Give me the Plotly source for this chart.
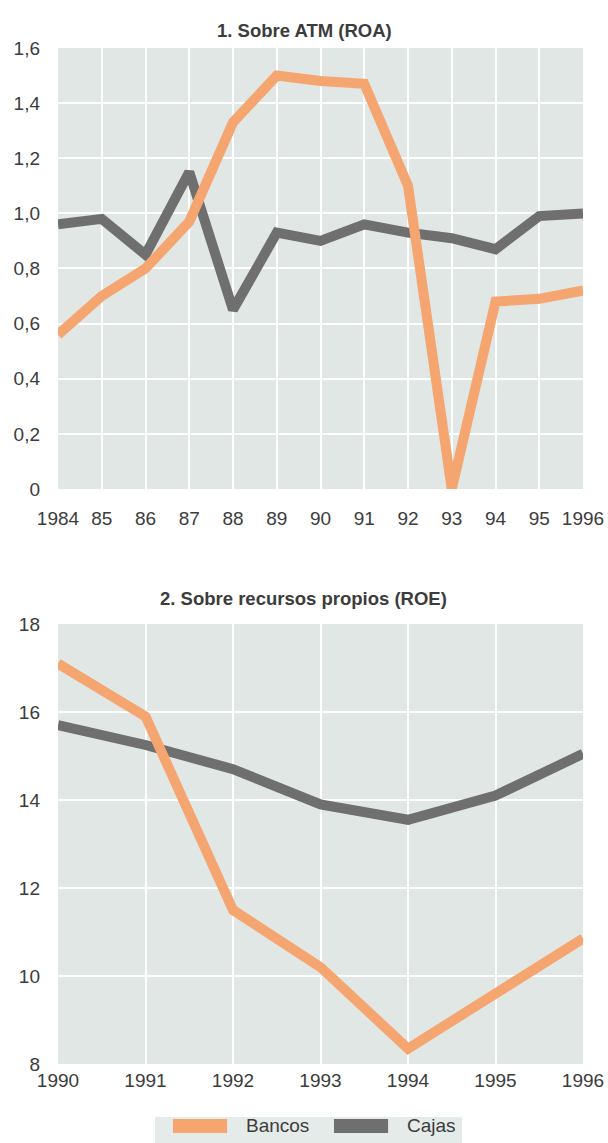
import plotly.graph_objects as go

# 1. Sobre ATM (ROA)
roa_years = [1984, 1985, 1986, 1987, 1988, 1989, 1990, 1991, 1992, 1993, 1994, 1995, 1996]
roa_labels = ["1984", "85", "86", "87", "88", "89", "90", "91", "92", "93", "94", "95", "1996"]
roa_bancos = [0.56, 0.70, 0.80, 0.97, 1.33, 1.50, 1.48, 1.47, 1.10, 0.00, 0.68, 0.69, 0.72]
roa_cajas = [0.96, 0.98, 0.85, 1.15, 0.65, 0.93, 0.90, 0.96, 0.93, 0.91, 0.87, 0.99, 1.00]
roa_ticks = [0, 0.2, 0.4, 0.6, 0.8, 1.0, 1.2, 1.4, 1.6]
roa_ticktext = ["0", "0,2", "0,4", "0,6", "0,8", "1,0", "1,2", "1,4", "1,6"]

# 2. Sobre recursos propios (ROE)
roe_years = [1990, 1991, 1992, 1993, 1994, 1995, 1996]
roe_bancos = [17.1, 15.9, 11.5, 10.2, 8.35, 9.6, 10.85]
roe_cajas = [15.7, 15.25, 14.7, 13.9, 13.55, 14.1, 15.05]
roe_ticks = [8, 10, 12, 14, 16, 18]

series_names = ["Bancos", "Cajas"]

ORANGE = "#f5a670"
GRAY = "#6f6f6f"
BG = "#e1e7e5"
TXT = "#3c3c3c"
FONT = "Liberation Sans, Arial, sans-serif"

fig = go.Figure()

# gris primero para que el naranja quede encima
fig.add_trace(go.Scatter(x=roa_years, y=roa_cajas, mode="lines", name="Cajas",
                         line=dict(color=GRAY, width=10), xaxis="x", yaxis="y"))
fig.add_trace(go.Scatter(x=roa_years, y=roa_bancos, mode="lines", name="Bancos",
                         line=dict(color=ORANGE, width=10), xaxis="x", yaxis="y"))
fig.add_trace(go.Scatter(x=roe_years, y=roe_cajas, mode="lines", name="Cajas",
                         line=dict(color=GRAY, width=10), xaxis="x2", yaxis="y2"))
fig.add_trace(go.Scatter(x=roe_years, y=roe_bancos, mode="lines", name="Bancos",
                         line=dict(color=ORANGE, width=10), xaxis="x2", yaxis="y2"))

axis_common = dict(showgrid=True, gridcolor="white", gridwidth=1.5, zeroline=False,
                   showline=False, automargin=False, fixedrange=True,
                   tickfont=dict(size=19, color=TXT, family=FONT))

# leyenda dibujada a mano (caja + muestras anchas como en el original)
legend_shapes = [
    dict(type="rect", xref="paper", yref="paper", x0=0.255, x1=0.760, y0=0.0, y1=0.0227,
         fillcolor="#e4ebe9", line=dict(width=0), layer="below"),
]
legend_annots = []
swatch_x = [0.2845, 0.5493]
for name, color, sx in zip(series_names, [ORANGE, GRAY], swatch_x):
    legend_shapes.append(dict(type="rect", xref="paper", yref="paper", x0=sx, x1=sx + 0.089,
                              y0=0.0087, y1=0.0210, fillcolor=color, line=dict(width=0)))
    legend_annots.append(dict(text=name, x=sx + 0.117, y=0.0149, xref="paper", yref="paper",
                              xanchor="left", yanchor="middle", showarrow=False,
                              font=dict(size=19, color=TXT, family=FONT)))

fig.update_layout(
    width=608, height=1143,
    margin=dict(l=0, r=0, t=0, b=0),
    paper_bgcolor="white",
    plot_bgcolor=BG,
    showlegend=False,
    font=dict(family=FONT, color=TXT),
    xaxis=dict(domain=[0.0954, 0.9589], anchor="y", range=[1984, 1996],
               tickvals=roa_years, ticktext=roa_labels, ticklabelstandoff=16,
               **axis_common),
    yaxis=dict(domain=[0.5722, 0.958], anchor="x", range=[0, 1.6],
               tickvals=roa_ticks, ticktext=roa_ticktext, ticklabelstandoff=17,
               **axis_common),
    xaxis2=dict(domain=[0.0954, 0.9589], anchor="y2", range=[1990, 1996],
                tickvals=roe_years, ticklabelstandoff=3, **axis_common),
    yaxis2=dict(domain=[0.0691, 0.4541], anchor="x2", range=[8, 18],
                tickvals=roe_ticks, ticklabelstandoff=17, **axis_common),
    shapes=legend_shapes,
    annotations=[
        dict(text="<b>1. Sobre ATM (ROA)</b>", x=0.5008, y=0.9843, xref="paper", yref="paper",
             showarrow=False, font=dict(size=18.5, color=TXT, family=FONT)),
        dict(text="<b>2. Sobre recursos propios (ROE)</b>", x=0.499, y=0.4768, xref="paper",
             yref="paper", showarrow=False, font=dict(size=18.5, color=TXT, family=FONT)),
    ] + legend_annots,
)

# quitar el margen por defecto del body para que la figura ocupe toda la ventana
fig.write_html("out.html", config={"displayModeBar": False},
               post_script="document.body.style.margin='0';document.body.style.overflow='hidden';")
